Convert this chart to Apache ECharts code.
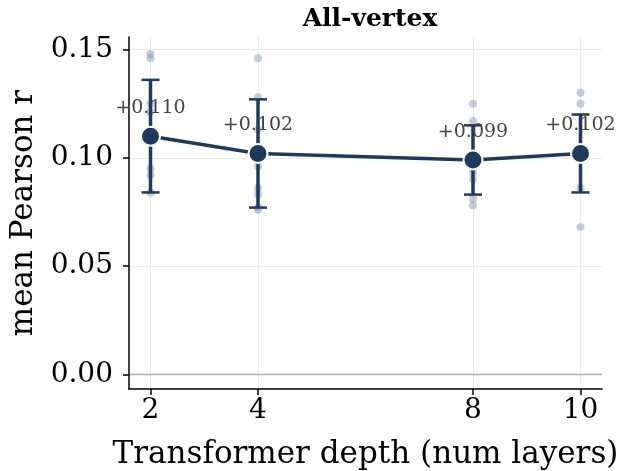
<!DOCTYPE html>
<html>
<head>
<meta charset="utf-8">
<script src="https://cdn.jsdelivr.net/npm/echarts@6/dist/echarts.min.js"></script>
<style>
  html, body { margin: 0; padding: 0; background: #fff; }
  #chart { width: 619px; height: 471px; }
</style>
</head>
<body>
<div id="chart"></div>
<script>
// Transformer depth (number of layers) on the x axis
const depths = [2, 4, 8, 10];
// Mean Pearson r per depth and its error-bar half width
const meanR = [0.110, 0.102, 0.099, 0.102];
const errR = [0.026, 0.025, 0.016, 0.018];
// Individual runs at each depth
const runs2 = [0.148, 0.146, 0.125, 0.121, 0.095, 0.092, 0.084];
const runs4 = [0.146, 0.128, 0.113, 0.096, 0.086, 0.083, 0.077, 0.076];
const runs8 = [0.125, 0.117, 0.093, 0.090, 0.081, 0.078];
const runs10 = [0.130, 0.125, 0.086, 0.068];
const runsByDepth = [runs2, runs4, runs8, runs10];
// Tick values
const xTicks = [2, 4, 8, 10];
const yTicks = [0, 0.05, 0.10, 0.15];

const NAVY = '#1f3a5f';
const SERIF = 'DejaVu Serif';

const runPoints = [];
runsByDepth.forEach((runs, i) => runs.forEach(v => runPoints.push([depths[i], v])));

const meanPoints = depths.map((d, i) => [d, meanR[i]]);
const errData = depths.map((d, i) => [d, meanR[i] - errR[i], meanR[i] + errR[i]]);

const chart = echarts.init(document.getElementById('chart'), null, { renderer: 'canvas' });

chart.setOption({
  animation: false,
  backgroundColor: '#fff',
  title: {
    text: 'All-vertex',
    left: 365,
    top: 2,
    textAlign: 'center',
    textStyle: { fontFamily: SERIF, fontWeight: 'bold', fontSize: 25, color: '#000' }
  },
  grid: { left: 129, right: 17, top: 37, bottom: 82, containLabel: false, outerBoundsMode: 'none' },
  xAxis: {
    type: 'value',
    min: 1.6,
    max: 10.4,
    name: 'Transformer depth (num layers)',
    nameLocation: 'middle',
    nameGap: 50,
    nameTextStyle: { fontFamily: SERIF, fontSize: 31, color: '#000' },
    axisLine: { show: true, onZero: false, lineStyle: { color: '#000', width: 1.5 } },
    axisTick: { show: true, length: 6, customValues: xTicks, lineStyle: { color: '#000', width: 1.5 } },
    axisLabel: {
      customValues: xTicks,
      fontFamily: SERIF, fontSize: 28, color: '#000', margin: 8
    },
    splitLine: { show: false }
  },
  yAxis: {
    type: 'value',
    min: -0.0068,
    max: 0.1558,
    name: 'mean Pearson r',
    nameLocation: 'middle',
    nameGap: 77,
    nameTextStyle: { fontFamily: SERIF, fontSize: 31, color: '#000' },
    axisLine: { show: true, onZero: false, lineStyle: { color: '#000', width: 1.5 } },
    axisTick: { show: true, length: 6, customValues: yTicks, lineStyle: { color: '#000', width: 1.5 } },
    axisLabel: {
      customValues: yTicks,
      formatter: v => v.toFixed(2),
      fontFamily: SERIF, fontSize: 28, color: '#000', margin: 16
    },
    splitLine: { show: false }
  },
  series: [
    {
      // grid lines and the zero reference line, kept beneath the data
      type: 'line',
      data: [],
      silent: true,
      z: 0,
      markLine: {
        z: 0,
        silent: true,
        symbol: 'none',
        label: { show: false },
        animation: false,
        data: [
          ...xTicks.map(v => ({ xAxis: v, lineStyle: { color: '#ebebeb', width: 1, type: 'solid' } })),
          ...yTicks.filter(v => v !== 0).map(v => ({ yAxis: v, lineStyle: { color: '#ebebeb', width: 1, type: 'solid' } })),
          { yAxis: 0, lineStyle: { color: '#adadad', width: 1.3, type: 'solid' } }
        ]
      }
    },
    {
      // individual runs
      type: 'scatter',
      data: runPoints,
      symbolSize: 8,
      itemStyle: { color: 'rgba(140,158,182,0.65)' },
      z: 1
    },
    {
      // error bars with caps
      type: 'custom',
      data: errData,
      z: 2,
      renderItem: function (params, api) {
        const x = api.value(0);
        const lo = api.coord([x, api.value(1)]);
        const hi = api.coord([x, api.value(2)]);
        const cap = 9;
        const bar = { stroke: NAVY, lineWidth: 3.5, fill: null };
        const capStyle = { stroke: NAVY, lineWidth: 2.5, fill: null };
        return {
          type: 'group',
          children: [
            { type: 'line', shape: { x1: lo[0], y1: lo[1], x2: hi[0], y2: hi[1] }, style: bar },
            { type: 'line', shape: { x1: lo[0] - cap, y1: lo[1], x2: lo[0] + cap, y2: lo[1] }, style: capStyle },
            { type: 'line', shape: { x1: hi[0] - cap, y1: hi[1], x2: hi[0] + cap, y2: hi[1] }, style: capStyle }
          ]
        };
      }
    },
    {
      // mean per depth
      type: 'line',
      data: meanPoints,
      z: 3,
      symbol: 'circle',
      symbolSize: 19,
      lineStyle: { color: NAVY, width: 3.5 },
      itemStyle: { color: NAVY, borderColor: '#fff', borderWidth: 2 },
      label: {
        show: true,
        position: 'top',
        distance: 8,
        formatter: p => '+' + p.value[1].toFixed(3),
        fontFamily: SERIF,
        fontSize: 19,
        color: '#444'
      }
    }
  ]
});
</script>
</body>
</html>
